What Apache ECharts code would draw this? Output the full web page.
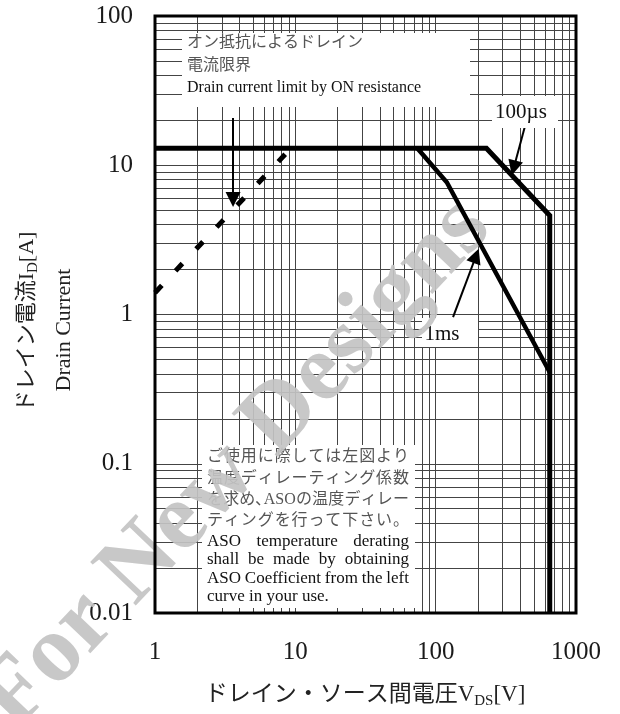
<!DOCTYPE html>
<html><head><meta charset="utf-8">
<script src="https://cdn.jsdelivr.net/npm/echarts@6/dist/echarts.min.js"></script>
<style>html,body{margin:0;padding:0;background:#fff}#c{width:620px;height:714px}</style>
</head><body><div id="c"></div>
<script>
// ---- data ----
const xTickValues = [1, 10, 100, 1000];
const xTickLabels = ['1', '10', '100', '1000'];
const yTickValues = [0.01, 0.1, 1, 10, 100];
const yTickLabels = ['0.01', '0.1', '1', '10', '100'];
const xGridValues = [2,3,4,5,6,7,8,9,10,20,30,40,50,60,70,80,90,100,200,300,400,500,600,700,800,900];
const yGridValues = [0.02,0.03,0.04,0.05,0.06,0.07,0.08,0.09,0.1,0.2,0.3,0.4,0.5,0.6,0.7,0.8,0.9,1,2,3,4,5,6,7,8,9,10,20,30,40,50,60,70,80,90];
// 100 µs limit (V, A)
const limit100usV = [1, 230, 650, 650];
const limit100usI = [13, 13, 4.6, 0.01];
// 1 ms limit (V, A)
const limit1msV = [74, 120, 650];
const limit1msI = [13, 7.7, 0.41];
// drain current limit by ON resistance (V, A)
const onResV = [1, 9.3];
const onResI = [1.4, 13];
// annotation arrows: [startV, startI, endV, endI]
const arrowOnRes = [3.6, 20.7, 3.6, 5.9];
const arrow100us = [441, 19.5, 360, 9.6];
const arrow1ms = [133, 0.96, 194, 2.47];

// ---- layout ----
const G = {left: 155, top: 16, width: 421, height: 597};
const SERIF = '"Liberation Serif", "Noto Sans CJK JP", serif';
const zip = (a, b) => a.map((v, i) => [v, b[i]]);
const lab = (vals, labels) => v => { const k = Math.round(Math.log10(v)); const i = vals.findIndex(t => Math.round(Math.log10(t)) === k); return i >= 0 ? labels[i] : ''; };

const mctx = document.createElement('canvas').getContext('2d');
function tw(t, font) { mctx.font = font; return mctx.measureText(t).width; }
function txt(t, x, yc, size, color, align) {
  return {type: 'text', x: x, y: yc, zlevel: 1, z: 10, silent: true,
    style: {text: t, font: size + 'px ' + SERIF, fill: color, align: align || 'left', verticalAlign: 'middle'}};
}
function justify(tokens, x0, x1, yc, size, color) {
  const font = size + 'px ' + SERIF;
  const w = tokens.map(t => tw(t, font));
  const tot = w.reduce((a, b) => a + b, 0);
  const gap = tokens.length > 1 ? (x1 - x0 - tot) / (tokens.length - 1) : 0;
  let x = x0; const els = [];
  tokens.forEach((t, i) => { els.push(txt(t, x, yc, size, color)); x += w[i] + gap; });
  return els;
}
function box(x, y, w, h) {
  return {type: 'rect', zlevel: 1, z: 5, silent: true, shape: {x: x, y: y, width: w, height: h}, style: {fill: '#fff'}};
}
const JP = '#555', EN = '#111';
const BX0 = 207, BX1 = 409;

const graphics = [
  box(182, 33, 288, 74),
  box(202, 445, 213, 163),
  box(492, 96, 66, 32),
  box(422, 318, 56, 29),
  // watermark (above grid and notes, below curves)
  {type: 'text', x: 236, y: 464, rotation: 0.81, zlevel: 2, z: 1, silent: true, style: {
    text: 'For New Designs', font: 'bold 96px "Liberation Serif"', fill: 'rgba(195,195,195,0.92)',
    align: 'center', verticalAlign: 'middle'}},
  txt('オン抵抗によるドレイン', 187, 43, 16, JP),
  txt('電流限界', 187, 66, 16, JP),
  txt('Drain current limit by ON resistance', 187, 88, 16, EN),
  ...justify('ご使用に際しては左図より'.split(''), BX0, BX1, 457, 16, JP),
  ...justify('温度ディレーティング係数'.split(''), BX0, BX1, 479, 16, JP),
  ...justify(['を','求','め','､','ASO','の','温','度','デ','ィ','レ','ー'], BX0, BX1, 500, 16, JP),
  ...justify('ティングを行って下さい。'.split(''), BX0, BX1, 521, 16, JP),
  ...justify(['ASO','temperature','derating'], BX0, BX1, 542, 17, EN),
  ...justify(['shall','be','made','by','obtaining'], BX0, BX1, 560, 17, EN),
  ...justify(['ASO','Coefficient','from','the','left'], BX0, BX1, 579, 17, EN),
  txt('curve in your use.', BX0, 597, 17, EN),
  txt('100µs', 521, 112, 21, EN, 'center'),
  txt('1ms', 442, 334, 21, EN, 'center'),
  // frame
  {type: 'rect', zlevel: 3, z: 8, silent: true, shape: {x: G.left, y: G.top, width: G.width, height: G.height}, style: {fill: null, stroke: '#000', lineWidth: 3}},
  // axis titles
  {type: 'text', x: 365, y: 695, zlevel: 3, z: 10, silent: true, style: {
    text: '{a|ドレイン・ソース間電圧V}{s|DS}{a|[V]}', align: 'center', verticalAlign: 'middle',
    rich: {a: {fontSize: 23, fontFamily: SERIF, fill: '#222', lineHeight: 28, verticalAlign: 'middle'},
           s: {fontSize: 15, fontFamily: SERIF, fill: '#222', lineHeight: 15, verticalAlign: 'bottom'}}}},
  {type: 'text', x: 27, y: 322, rotation: Math.PI / 2, zlevel: 3, z: 10, silent: true, style: {
    text: '{a|ドレイン電流I}{s|D}{a|[A]}', align: 'center', verticalAlign: 'middle',
    rich: {a: {fontSize: 22, fontFamily: SERIF, fill: '#222', lineHeight: 28, verticalAlign: 'middle'},
           s: {fontSize: 15, fontFamily: SERIF, fill: '#222', lineHeight: 15, verticalAlign: 'bottom'}}}},
  {type: 'text', x: 64, y: 330, rotation: Math.PI / 2, zlevel: 3, z: 10, silent: true, style: {
    text: 'Drain Current', font: '22px ' + SERIF, fill: '#222', align: 'center', verticalAlign: 'middle'}}
];

const chart = echarts.init(document.getElementById('c'), null, {renderer: 'canvas'});
const arrowLine = a => [{coord: [a[0], a[1]]}, {coord: [a[2], a[3]]}];
chart.setOption({
  animation: false,
  backgroundColor: '#fff',
  grid: {left: G.left, top: G.top, width: G.width, height: G.height, containLabel: false, outerBoundsMode: 'none'},
  xAxis: {type: 'log', logBase: 10, min: 1, max: 1000,
    axisLine: {show: false}, axisTick: {show: false}, splitLine: {show: false},
    axisLabel: {formatter: lab(xTickValues, xTickLabels), margin: 27, fontSize: 25, fontFamily: SERIF, color: '#1a1a1a'}},
  yAxis: {type: 'log', logBase: 10, min: 0.01, max: 100,
    axisLine: {show: false}, axisTick: {show: false}, splitLine: {show: false},
    axisLabel: {formatter: lab(yTickValues, yTickLabels), margin: 22, fontSize: 25, fontFamily: SERIF, color: '#1a1a1a'}},
  series: [
    {type: 'line', name: 'grid', data: [], zlevel: 0, z: 1, silent: true,
      markLine: {silent: true, symbol: 'none', animation: false, label: {show: false},
        lineStyle: {color: '#444', width: 1, type: 'solid'}, emphasis: {disabled: true},
        data: [...xGridValues.map(v => ({xAxis: v})), ...yGridValues.map(v => ({yAxis: v}))]}},
    {type: 'line', name: '100µs', data: zip(limit100usV, limit100usI), zlevel: 2, z: 5, symbol: 'none', silent: true,
      lineStyle: {color: '#000', width: 5, join: 'miter'}},
    {type: 'line', name: '1ms', data: zip(limit1msV, limit1msI), zlevel: 2, z: 5, symbol: 'none', silent: true,
      lineStyle: {color: '#000', width: 4.5, join: 'miter'}},
    {type: 'line', name: 'ON resistance limit', data: zip(onResV, onResI), zlevel: 2, z: 5, symbol: 'none', silent: true,
      lineStyle: {color: '#000', width: 5, type: [10, 20], cap: 'butt'}},
    {type: 'line', name: 'arrows', data: [], zlevel: 2, z: 6, silent: true,
      markLine: {silent: true, symbol: ['none', 'triangle'], symbolSize: 15, animation: false, label: {show: false},
        lineStyle: {color: '#000', width: 2, type: 'solid'}, itemStyle: {color: '#000'}, emphasis: {disabled: true},
        data: [arrowLine(arrowOnRes), arrowLine(arrow100us), arrowLine(arrow1ms)]}}
  ],
  graphic: {elements: graphics}
});
</script></body></html>
